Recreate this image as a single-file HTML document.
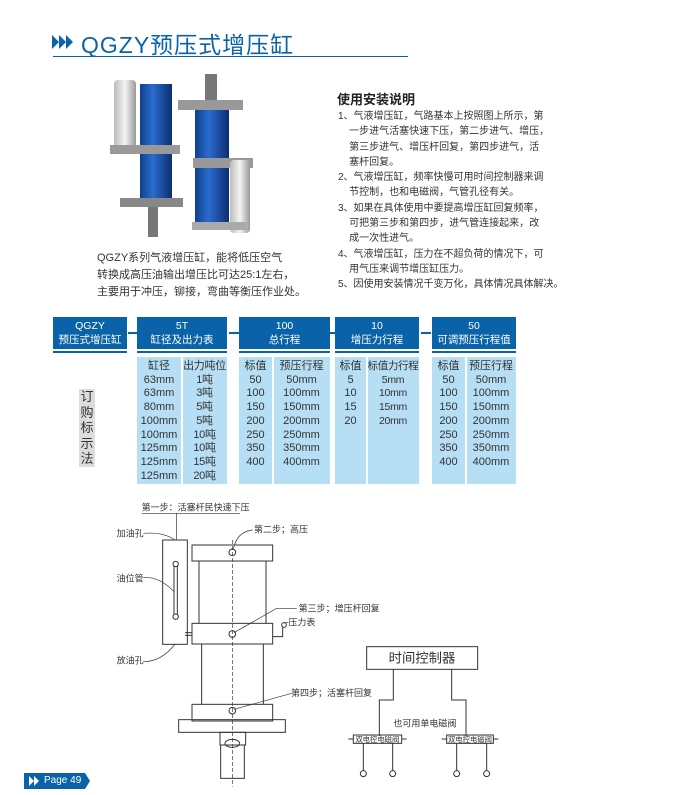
<!DOCTYPE html>
<html><head><meta charset="utf-8">
<style>
*{margin:0;padding:0;box-sizing:border-box}
body{width:690px;height:795px;background:#fff;position:relative;overflow:hidden;font-family:"Liberation Sans","Noto Sans CJK SC",sans-serif;color:#333}
.a{position:absolute;white-space:nowrap}
.hd{position:absolute;background:#0a63a8;color:#fff;text-align:center;font-size:10.5px;line-height:14px;padding-top:2px;top:317px;height:32px;white-space:nowrap}
.ul{position:absolute;top:351px;height:2px;background:#0a63a8}
.dash{position:absolute;top:332px;width:10px;height:2px;background:#0a63a8}
.bd{position:absolute;top:357px;height:127px;background:#b6def4}
.col{position:absolute;top:360px;text-align:center;font-size:11px;line-height:13.7px;color:#333;white-space:nowrap}
.sep{position:absolute;top:357px;height:127px;width:1.5px;background:#fff}
.ins{position:absolute;font-size:10px;line-height:15.3px;white-space:nowrap;color:#333}
</style></head><body>

<!-- title -->
<svg class="a" style="left:52px;top:33px" width="26" height="18" viewBox="0 0 26 18">
<polygon points="0,2 7,9 0,16" fill="#0a63a8"/><polygon points="7,2 14,9 7,16" fill="#0a63a8"/><polygon points="14,2 21,9 14,16" fill="#0a63a8"/></svg>
<div class="a" style="left:81px;top:26px;font-size:23px;color:#0a63a8;letter-spacing:1px">QGZY预压式增压缸</div>
<div class="a" style="left:53px;top:56px;width:355px;height:1px;background:#0a63a8"></div>

<!-- photo approx -->
<svg class="a" style="left:100px;top:70px" width="170" height="175" viewBox="100 70 170 175">
<defs><linearGradient id="bl" x1="0" x2="1"><stop offset="0" stop-color="#103f8c"/><stop offset=".4" stop-color="#2a6cd0"/><stop offset="1" stop-color="#0c2e6e"/></linearGradient>
<linearGradient id="wh" x1="0" x2="1"><stop offset="0" stop-color="#bbb"/><stop offset=".5" stop-color="#f4f4f4"/><stop offset="1" stop-color="#999"/></linearGradient></defs>
<rect x="114" y="80" width="22" height="72" rx="4" fill="url(#wh)"/>
<rect x="140" y="84" width="32" height="118" fill="url(#bl)"/>
<rect x="110" y="145" width="70" height="9" fill="#999"/>
<rect x="120" y="198" width="63" height="9" fill="#888"/>
<rect x="148" y="207" width="10" height="30" fill="#777"/>
<rect x="205" y="74" width="12" height="28" fill="#777"/>
<rect x="178" y="100" width="65" height="10" fill="#999"/>
<rect x="195" y="110" width="34" height="117" fill="url(#bl)"/>
<rect x="193" y="158" width="60" height="10" fill="#999"/>
<rect x="230" y="160" width="20" height="73" rx="4" fill="url(#wh)"/>
<rect x="192" y="222" width="55" height="8" fill="#aaa"/>
</svg>
<div class="a" style="left:97px;top:250px;font-size:11px;line-height:17px;color:#333">QGZY系列气液增压缸，能将低压空气<br>转换成高压油输出增压比可达25:1左右，<br>主要用于冲压，铆接，弯曲等衡压作业处。</div>

<!-- instructions -->
<div class="a" style="left:337px;top:89px;font-size:13px;font-weight:bold;color:#222">使用安装说明</div>
<div class="ins" style="left:338px;top:109px">1、气液增压缸，气路基本上按照图上所示，第<br>&nbsp;&nbsp;&nbsp;&nbsp;一步进气活塞快速下压，第二步进气、增压，<br>&nbsp;&nbsp;&nbsp;&nbsp;第三步进气、增压杆回复，第四步进气，活<br>&nbsp;&nbsp;&nbsp;&nbsp;塞杆回复。<br>2、气液增压缸，频率快慢可用时间控制器来调<br>&nbsp;&nbsp;&nbsp;&nbsp;节控制，也和电磁阀，气管孔径有关。<br>3、如果在具体使用中要提高增压缸回复频率，<br>&nbsp;&nbsp;&nbsp;&nbsp;可把第三步和第四步，进气管连接起来，改<br>&nbsp;&nbsp;&nbsp;&nbsp;成一次性进气。<br>4、气液增压缸，压力在不超负荷的情况下，可<br>&nbsp;&nbsp;&nbsp;&nbsp;用气压来调节增压缸压力。<br>5、因使用安装情况千变万化，具体情况具体解决。</div>

<!-- table headers -->
<div class="hd" style="left:53px;width:74px">QGZY<br>预压式增压缸</div>
<div class="hd" style="left:137px;width:90px">5T<br>缸径及出力表</div>
<div class="hd" style="left:239px;width:91px">100<br>总行程</div>
<div class="hd" style="left:335px;width:84px">10<br>增压力行程</div>
<div class="hd" style="left:432px;width:84px">50<br>可调预压行程值</div>
<div class="ul" style="left:53px;width:74px"></div>
<div class="ul" style="left:137px;width:90px"></div>
<div class="ul" style="left:239px;width:91px"></div>
<div class="ul" style="left:335px;width:84px"></div>
<div class="ul" style="left:432px;width:84px"></div>
<div class="dash" style="left:128px"></div>
<div class="dash" style="left:229px"></div>
<div class="dash" style="left:325px"></div>
<div class="dash" style="left:421px"></div>

<div class="bd" style="left:137px;width:90px"></div>
<div class="bd" style="left:239px;width:91px"></div>
<div class="bd" style="left:335px;width:84px"></div>
<div class="bd" style="left:432px;width:84px"></div>
<div class="sep" style="left:181px"></div>
<div class="sep" style="left:272px"></div>
<div class="sep" style="left:366px"></div>
<div class="sep" style="left:465px"></div>

<div class="col" style="left:137px;width:44px">缸径<br>63mm<br>63mm<br>80mm<br>100mm<br>100mm<br>125mm<br>125mm<br>125mm</div>
<div class="col" style="left:182px;width:45px;letter-spacing:-0.3px">出力吨位<br>1吨<br>3吨<br>5吨<br>5吨<br>10吨<br>10吨<br>15吨<br>20吨</div>
<div class="col" style="left:239px;width:33px">标值<br>50<br>100<br>150<br>200<br>250<br>350<br>400</div>
<div class="col" style="left:273px;width:57px">预压行程<br>50mm<br>100mm<br>150mm<br>200mm<br>250mm<br>350mm<br>400mm</div>
<div class="col" style="left:335px;width:31px">标值<br>5<br>10<br>15<br>20</div>
<div class="col" style="left:367px;width:52px;font-size:10.5px;letter-spacing:-0.3px">标值力行程<br>5mm<br>10mm<br>15mm<br>20mm</div>
<div class="col" style="left:432px;width:33px">标值<br>50<br>100<br>150<br>200<br>250<br>350<br>400</div>
<div class="col" style="left:466px;width:50px">预压行程<br>50mm<br>100mm<br>150mm<br>200mm<br>250mm<br>350mm<br>400mm</div>

<div class="a" style="left:79px;top:389px;width:16px;height:78px;background:#ddd"></div>
<div class="a" style="left:79px;top:389px;width:16px;font-size:13px;line-height:15.5px;text-align:center;color:#333;white-space:normal">订购标示法</div>

<!-- diagram -->
<svg class="a" style="left:100px;top:490px" width="420" height="300" viewBox="0 0 1260 900">
<g fill="none" stroke="#333" stroke-width="3">
<rect x="188" y="150" width="74" height="313"/>
<rect x="222" y="222" width="10" height="158"/>
<circle cx="227" cy="222" r="8" fill="#fff"/><circle cx="227" cy="380" r="8" fill="#fff"/>
<rect x="276" y="165" width="242" height="48"/>
<line x1="297" y1="213" x2="297" y2="400"/><line x1="498" y1="213" x2="498" y2="400"/>
<rect x="276" y="400" width="242" height="62"/>
<line x1="305" y1="462" x2="305" y2="643"/><line x1="490" y1="462" x2="490" y2="643"/>
<rect x="276" y="643" width="242" height="50"/>
<rect x="236" y="689" width="320" height="38"/>
<rect x="360" y="727" width="77" height="38"/>
<rect x="362" y="765" width="71" height="100"/>
<ellipse cx="397" cy="760" rx="22" ry="12"/>
<line x1="255" y1="428" x2="276" y2="428"/><line x1="255" y1="436" x2="276" y2="436"/>
<path d="M518 440 H548 V412"/><circle cx="552" cy="405" r="7"/>
<circle cx="397" cy="187" r="10"/><circle cx="397" cy="432" r="10"/><circle cx="397" cy="662" r="10"/>
<line x1="397" y1="150" x2="397" y2="890" stroke-dasharray="12,6" stroke-width="2"/>
<g stroke-width="2">
<line x1="125" y1="70" x2="420" y2="70"/><line x1="230" y1="70" x2="230" y2="150"/>
<path d="M130 130 Q190 125 225 150"/>
<path d="M130 262 Q180 260 222 305"/>
<path d="M130 515 Q185 515 225 462"/>
<path d="M458 120 Q410 125 400 178"/>
<path d="M590 355 L530 355 L402 428"/>
<path d="M575 610 L402 658"/>
<line x1="552" y1="398" x2="565" y2="398"/>
</g>
<rect x="800" y="470" width="333" height="68"/>
<path d="M880 538 V630 H838 V738"/><path d="M1055 538 V630 H1098 V738"/>
<rect x="760" y="735" width="145" height="25"/><rect x="1040" y="735" width="140" height="25"/>
<line x1="745" y1="747" x2="760" y2="747"/><line x1="905" y1="747" x2="920" y2="747"/>
<line x1="1025" y1="747" x2="1040" y2="747"/><line x1="1180" y1="747" x2="1195" y2="747"/>
<line x1="790" y1="760" x2="790" y2="842"/><line x1="878" y1="760" x2="878" y2="842"/>
<line x1="1070" y1="760" x2="1070" y2="842"/><line x1="1160" y1="760" x2="1160" y2="842"/>
<circle cx="790" cy="851" r="9"/><circle cx="878" cy="851" r="9"/><circle cx="1070" cy="851" r="9"/><circle cx="1160" cy="851" r="9"/>
</g>
<g font-family="Liberation Sans,Noto Sans CJK SC,sans-serif" font-size="27" fill="#333">
<text x="125" y="62">第一步：活塞杆民快速下压</text>
<text x="462" y="128">第二步；高压</text>
<text x="596" y="365">第三步；增压杆回复</text>
<text x="565" y="406">压力表</text>
<text x="573" y="618">第四步；活塞杆回复</text>
<text x="50" y="140">加油孔</text>
<text x="50" y="275">油位管</text>
<text x="50" y="520">放油孔</text>
<text x="966" y="518" font-size="40" text-anchor="middle">时间控制器</text>
<text x="880" y="710">也可用单电磁阀</text>
<text x="832" y="756" font-size="22" text-anchor="middle">双电控电磁阀</text>
<text x="1110" y="756" font-size="22" text-anchor="middle">双电控电磁阀</text>
</g>
</svg>

<!-- footer tab -->
<svg class="a" style="left:24px;top:773px" width="68" height="16" viewBox="0 0 68 16">
<polygon points="0,0 61,0 66,8 61,16 0,16" fill="#0a63a8"/>
<polygon points="5,3 10,8 5,13" fill="#fff"/><polygon points="10,3 15,8 10,13" fill="#fff"/></svg>
<div class="a" style="left:44px;top:774px;font-size:10px;line-height:14px;color:#fff">Page 49</div>
</body></html>
